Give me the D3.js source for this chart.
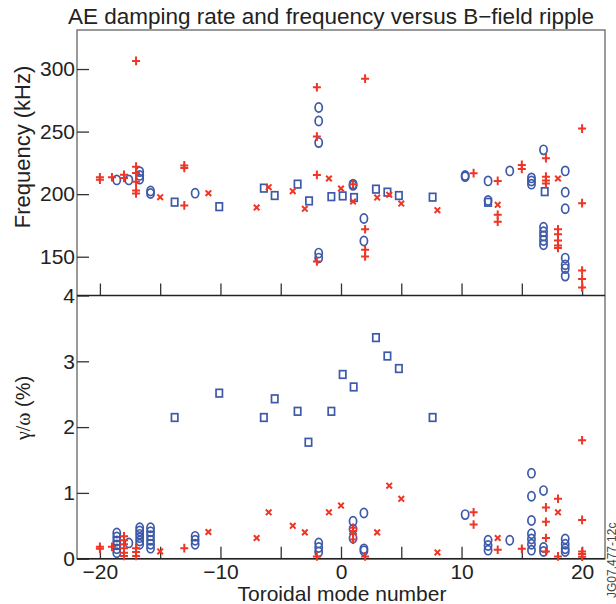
<!DOCTYPE html>
<html>
<head>
<meta charset="utf-8">
<script src="https://cdn.jsdelivr.net/npm/d3@7/dist/d3.min.js"></script>
<style>
  html, body { margin: 0; padding: 0; background: #fff; }
  svg { display: block; font-family: "Liberation Sans", Arial, Helvetica, sans-serif; }
  .tick text { font-size: 21px; fill: #222; }
</style>
</head>
<body>
<svg id="chart" width="616" height="604"></svg>
<script>
// Toroidal mode number n paired with AE frequency (kHz)
const freqCircles = [
  [-18.6, 211.4], [-17.6, 211.4], [-16.7, 212], [-16.7, 215], [-16.7, 218],
  [-15.8, 200.5], [-15.8, 202.5], [-12.1, 200.8],
  [-1.85, 269.2], [-1.85, 258.5], [-1.85, 241.2], [-1.85, 152.9], [-1.85, 148.9],
  [1.0, 208], [1.0, 207], [1.9, 180.5], [1.9, 162.5],
  [10.3, 214.9], [10.3, 214], [12.2, 210.6], [12.2, 194.9], [14.0, 218.6],
  [15.8, 213], [15.8, 210.5], [15.8, 208],
  [16.8, 235.4], [16.8, 173.6], [16.8, 170], [16.8, 166.5], [16.8, 163], [16.8, 159.5],
  [18.6, 218.6], [18.6, 201.6], [18.6, 188.3], [18.6, 148.9], [18.6, 143.5], [18.6, 140.5], [18.6, 134.5]
];
const freqSquares = [
  [-13.8, 193.6], [-10.1, 190], [-6.4, 204.8], [-5.5, 198.9], [-3.6, 208], [-2.65, 194.6],
  [-0.8, 198], [0.14, 198.6], [1.08, 197.3], [2.9, 204], [3.85, 201.6], [4.8, 198.9],
  [7.6, 197.6], [12.2, 193.5], [16.9, 202]
];
const freqPlus = [
  [-20, 211.5], [-20, 213.5], [-19, 213.5], [-18, 213], [-18, 215.5],
  [-17, 306.5], [-17, 222], [-17, 217], [-17, 210], [-17, 203], [-17, 200.5],
  [-13, 221], [-13, 223], [-13, 191],
  [-2, 285.5], [-2, 246], [-2, 215.4], [-2, 146.2],
  [1, 208], [2, 292.3], [2, 172], [2, 155.5], [2, 150.2],
  [11, 216.8], [13, 210.6], [13, 183.5], [13, 178], [15, 223.4], [15, 220.2],
  [17, 228.7], [17, 214], [17, 211], [17, 208.5],
  [18, 172], [18, 168], [18, 163], [18, 159], [18, 157],
  [20, 252.4], [20, 192.8], [20, 139], [20, 132.1], [20, 125.4]
];
const freqCross = [
  [-15, 197.6], [-11, 200.8], [-7, 189.3], [-6, 205.6], [-4, 202.4], [-3, 188.3],
  [-1, 212.5], [0, 204.5], [1, 194.1], [3, 197.3], [4, 199.5], [5, 192.5],
  [8, 187.2], [13, 191.5], [18, 212.5]
];

// Toroidal mode number n paired with damping rate gamma/omega (%)
const dampCircles = [
  [-18.6, 0.39], [-18.6, 0.33], [-18.6, 0.27], [-18.6, 0.21], [-18.6, 0.15], [-18.6, 0.09],
  [-17.6, 0.24],
  [-16.7, 0.47], [-16.7, 0.42], [-16.7, 0.37], [-16.7, 0.32], [-16.7, 0.27], [-16.7, 0.22],
  [-15.8, 0.47], [-15.8, 0.41], [-15.8, 0.35], [-15.8, 0.28], [-15.8, 0.22], [-15.8, 0.16],
  [-12.1, 0.34], [-12.1, 0.28], [-12.1, 0.22],
  [-1.85, 0.24], [-1.85, 0.17], [-1.85, 0.10],
  [1.0, 0.57], [1.0, 0.45], [1.0, 0.31], [1.9, 0.695], [1.9, 0.15], [1.9, 0.12],
  [10.3, 0.67], [12.2, 0.28], [12.2, 0.20], [12.2, 0.13], [14.0, 0.28],
  [15.8, 1.30], [15.8, 0.95], [15.8, 0.58], [15.8, 0.38], [15.8, 0.30], [15.8, 0.22], [15.8, 0.13],
  [16.8, 1.035], [16.8, 0.17], [16.8, 0.11],
  [18.6, 0.30], [18.6, 0.22], [18.6, 0.15], [18.6, 0.11]
];
const dampSquares = [
  [-13.8, 2.146], [-10.1, 2.516], [-6.4, 2.146], [-5.5, 2.43], [-3.6, 2.24], [-2.7, 1.77],
  [-0.8, 2.24], [0.14, 2.80], [1.05, 2.61], [2.9, 3.36], [3.85, 3.08], [4.8, 2.89], [7.6, 2.146]
];
const dampPlus = [
  [-20, 0.15], [-20, 0.18], [-19, 0.18],
  [-18, 0.34], [-18, 0.28], [-18, 0.22], [-18, 0.16], [-18, 0.09], [-18, 0.04],
  [-17, 0.16], [-17, 0.10], [-17, 0.04], [-13, 0.16], [-2, 0.035],
  [1, 0.47], [1, 0.42], [1, 0.38], [1, 0.29], [2, 0.035],
  [11, 0.705], [11, 0.52], [13, 0.137], [15, 0.15],
  [17, 0.78], [17, 0.56], [17, 0.315], [17, 0.11], [18, 0.91], [18, 0.035],
  [20, 1.80], [20, 0.59], [20, 0.11], [20, 0.07], [20, 0.03]
];
const dampCross = [
  [-15, 0.11], [-11, 0.406], [-7, 0.315], [-6, 0.705], [-4, 0.50], [-3, 0.40],
  [-1, 0.705], [0, 0.807], [3, 0.40], [4, 1.11], [5, 0.91], [8, 0.096], [13, 0.315], [18, 0.705]
];

const modeTicks = [-20, -15, -10, -5, 0, 5, 10, 15, 20];
const freqTicks = [150, 200, 250, 300];
const dampTicks = [0, 1, 2, 3, 4];

const BLUE = "#3d59a9";
const RED = "#ee3526";

const svg = d3.select("#chart");
const plotLeft = 77, plotRight = 605, plotTop = 30, plotMid = 295.5, plotBottom = 558.7;

const x = d3.scaleLinear().domain([-21.9, 21.9]).range([plotLeft, plotRight]);
const yF = d3.scaleLinear().domain([119, 331.2]).range([plotMid, plotTop]);
const yG = d3.scaleLinear().domain([0, 4]).range([plotBottom, plotMid]);

const minusFmt = d => (d < 0 ? "\u2212" + Math.abs(d) : String(d));

// frame
svg.append("rect").attr("x", plotLeft).attr("y", plotTop)
  .attr("width", plotRight - plotLeft).attr("height", plotBottom - plotTop)
  .attr("fill", "none").attr("stroke", "#7a7a7a").attr("stroke-width", 1.5);

function styleAxis(g) {
  g.select(".domain").remove();
  g.selectAll(".tick line").attr("stroke", "#333").attr("stroke-width", 1.3);
}

// x axes (inward ticks), labels on lower panel only
svg.append("g").attr("transform", `translate(0,${plotMid})`)
  .call(d3.axisBottom(x).tickValues(modeTicks).tickSize(-12).tickFormat(""))
  .call(styleAxis);
svg.append("g").attr("transform", `translate(0,${plotBottom})`)
  .call(d3.axisBottom(x).tickValues(modeTicks).tickSize(-12).tickPadding(5)
    .tickFormat(d => d % 10 === 0 ? minusFmt(d) : ""))
  .call(styleAxis);

// y axes
svg.append("g").attr("transform", `translate(${plotLeft},0)`)
  .call(d3.axisLeft(yF).tickValues(freqTicks).tickSize(-12).tickPadding(2).tickFormat(minusFmt))
  .call(styleAxis);
svg.append("g").attr("transform", `translate(${plotLeft},0)`)
  .call(d3.axisLeft(yG).tickValues(dampTicks).tickSize(-12).tickPadding(2).tickFormat(minusFmt))
  .call(styleAxis);

// panel divider and bottom axis line
svg.append("line").attr("x1", plotLeft).attr("x2", plotRight).attr("y1", plotMid).attr("y2", plotMid)
  .attr("stroke", "#222").attr("stroke-width", 1.6);
svg.append("line").attr("x1", plotLeft).attr("x2", plotRight).attr("y1", plotBottom).attr("y2", plotBottom)
  .attr("stroke", "#222").attr("stroke-width", 1.6);

// markers
function drawCircles(data, y) {
  svg.append("g").selectAll("ellipse").data(data).join("ellipse")
    .attr("cx", d => x(d[0])).attr("cy", d => y(d[1]))
    .attr("rx", 3.6).attr("ry", 4.6)
    .attr("fill", "none").attr("stroke", BLUE).attr("stroke-width", 1.7);
}
function drawSquares(data, y) {
  svg.append("g").selectAll("rect").data(data).join("rect")
    .attr("x", d => x(d[0]) - 3.2).attr("y", d => y(d[1]) - 3.8)
    .attr("width", 6.4).attr("height", 7.6)
    .attr("fill", "none").attr("stroke", BLUE).attr("stroke-width", 1.7);
}
function drawPlus(data, y) {
  svg.append("g").selectAll("path").data(data).join("path")
    .attr("d", d => {
      const cx = x(d[0]), cy = y(d[1]);
      return `M${cx - 4},${cy}H${cx + 4}M${cx},${cy - 4.3}V${cy + 4.3}`;
    })
    .attr("fill", "none").attr("stroke", RED).attr("stroke-width", 2);
}
function drawCross(data, y) {
  svg.append("g").selectAll("path").data(data).join("path")
    .attr("d", d => {
      const cx = x(d[0]), cy = y(d[1]);
      return `M${cx - 2.8},${cy - 2.8}L${cx + 2.8},${cy + 2.8}M${cx - 2.8},${cy + 2.8}L${cx + 2.8},${cy - 2.8}`;
    })
    .attr("fill", "none").attr("stroke", RED).attr("stroke-width", 2);
}

drawSquares(freqSquares, yF);
drawCircles(freqCircles, yF);
drawCross(freqCross, yF);
drawPlus(freqPlus, yF);

drawSquares(dampSquares, yG);
drawCircles(dampCircles, yG);
drawCross(dampCross, yG);
drawPlus(dampPlus, yG);

// titles and labels
svg.append("text").attr("x", 68).attr("y", 24)
  .attr("font-size", 22.5).attr("fill", "#222")
  .text("AE damping rate and frequency versus B\u2212field ripple");

svg.append("text").attr("x", 342).attr("y", 601)
  .attr("text-anchor", "middle").attr("font-size", 21).attr("fill", "#222")
  .text("Toroidal mode number");

svg.append("text").attr("transform", "translate(30,147) rotate(-90)")
  .attr("text-anchor", "middle").attr("font-size", 22).attr("fill", "#222")
  .text("Frequency (kHz)");

const gl = svg.append("text").attr("transform", "translate(30,408) rotate(-90)")
  .attr("text-anchor", "middle").attr("font-size", 20).attr("fill", "#222");
gl.append("tspan").attr("font-family", "'Liberation Serif', 'Times New Roman', serif").text("\u03b3/\u03c9");
gl.append("tspan").text(" (%)");

// figure reference code along the right edge
svg.append("text").attr("transform", "translate(615.5,598) rotate(-90)")
  .attr("font-size", 12).attr("fill", "#444")
  .text("JG07.477-12c");
</script>
</body>
</html>
